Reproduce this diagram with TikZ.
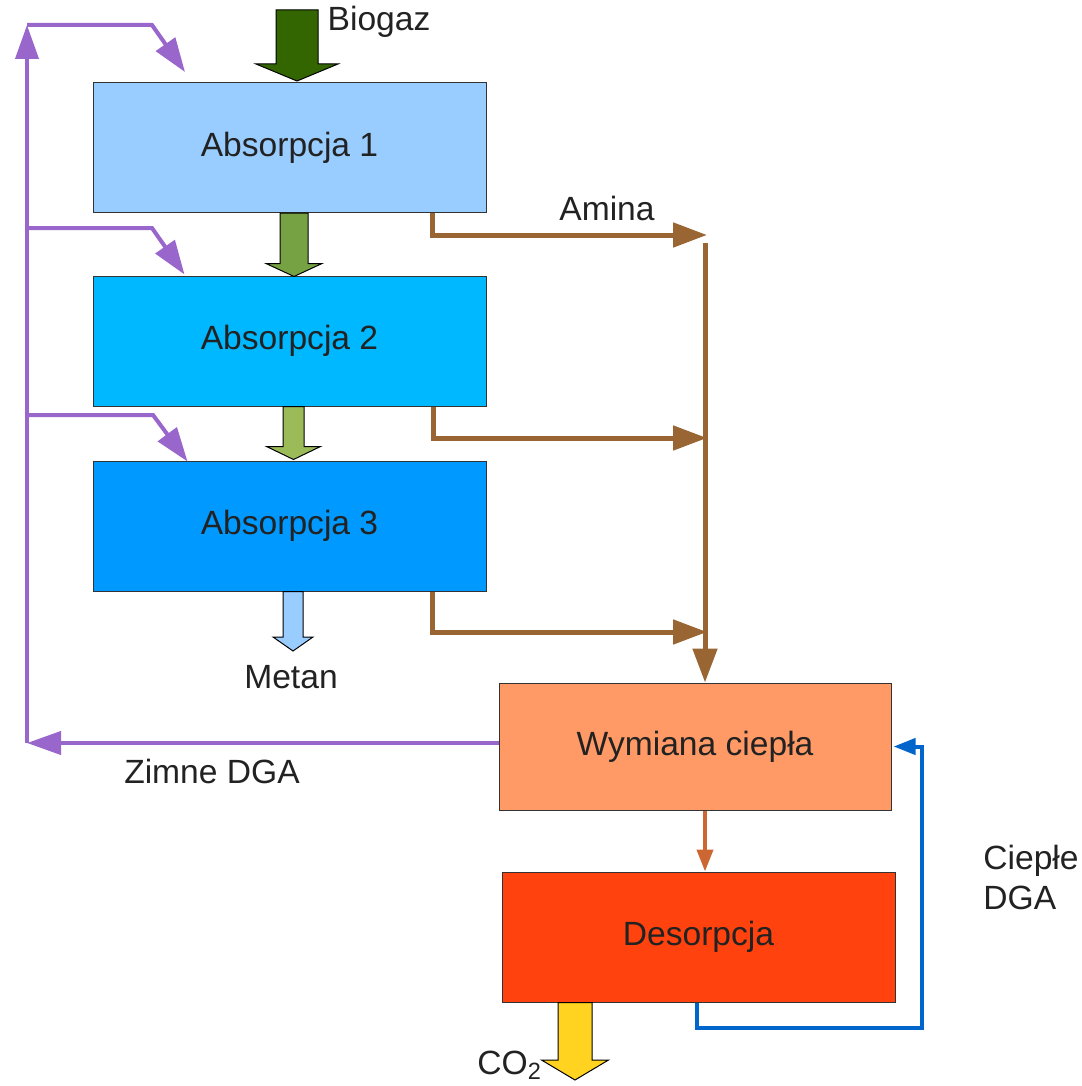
\documentclass[tikz,border=0pt]{standalone}
\usepackage{fontspec}
\setmainfont{Liberation Sans}
\usetikzlibrary{arrows.meta,calc}

\definecolor{abs1}{HTML}{99CCFF}
\definecolor{abs2}{HTML}{00B8FF}
\definecolor{abs3}{HTML}{0099FF}
\definecolor{wymcol}{HTML}{FF9966}
\definecolor{descol}{HTML}{FF420E}
\definecolor{aminacol}{HTML}{996633}
\definecolor{dgacol}{HTML}{9966CC}
\definecolor{ciepcol}{HTML}{0066CC}
\definecolor{grzcol}{HTML}{CC6633}
\definecolor{gaz1}{HTML}{336600}
\definecolor{gaz2}{HTML}{77A244}
\definecolor{gaz3}{HTML}{9BBB59}
\definecolor{metcol}{HTML}{99CCFF}
\definecolor{co2col}{HTML}{FFD320}
\definecolor{tekst}{HTML}{222222}

\tikzset{
  blok/.style={draw=black!80, line width=0.5pt, minimum width=196.5pt,
    minimum height=65pt, inner sep=0pt, text=tekst,
    font=\fontsize{16.8}{20}\selectfont},
  opis/.style={inner sep=0pt, text=tekst, font=\fontsize{16.8}{20}\selectfont},
  amina/.style={aminacol, line width=2.5pt, -{Triangle[length=17pt,width=12pt]}},
  dga/.style={dgacol, line width=2pt, -{Triangle[length=17pt,width=11.5pt]}},
}

% gruba strzalka: start, koniec, pol trzonu, pol grotu, dlugosc grotu, kolor
\newcommand{\gruba}[6]{%
  \filldraw[fill=#6, draw=black, line width=0.5pt] let \p1=(#1), \p2=(#2) in
    (\x1-#3,\y1) -- (\x1+#3,\y1) -- (\x1+#3,\y2+#5) -- (\x1+#4,\y2+#5)
    -- (\x1,\y2) -- (\x1-#4,\y2+#5) -- (\x1-#3,\y2+#5) -- cycle;}

\begin{document}
\begin{tikzpicture}[x=0.5pt, y=-0.5pt]
  \useasboundingbox (0,0) rectangle (1081,1086);

  % bloki
  \node[blok, fill=abs1] (a1) at (289.5,147.5) {Absorpcja 1};
  \node[blok, fill=abs2] (a2) at (289.5,341) {Absorpcja 2};
  \node[blok, fill=abs3] (a3) at (289.5,526) {Absorpcja 3};
  \node[blok, fill=wymcol, minimum width=196pt, minimum height=63.5pt] (wym) at (695,746.5) {Wymiana ciepła};
  \node[blok, fill=descol] (des) at (698.5,937) {Desorpcja};

  % opisy
  \node[opis] (biogaz) at (379,22) {Biogaz};
  \node[opis] (amina) at (607,208) {Amina};
  \node[opis] (metan) at (291,677) {Metan};
  \node[opis] (zimne) at (212,771) {Zimne DGA};
  \node[opis, anchor=west, align=left] (cieple) at (983,877) {Ciepłe\\DGA};
  \node[opis, anchor=west] (co2) at (477,1065) {CO\textsubscript{2}};

  % gaz
  \coordinate (bg) at (297,10);
  \coordinate (mt) at (293,651);
  \coordinate (co) at (575,1080);
  \gruba{bg}{$(a1.north)+(7.5,-1)$}{10.5pt}{20.5pt}{8.5pt}{gaz1}
  \gruba{$(a1.south)+(4.5,0)$}{$(a2.north)+(4.5,1)$}{7pt}{14pt}{6.5pt}{gaz2}
  \gruba{$(a2.south)+(4,0)$}{$(a3.north)+(4,-1)$}{5.25pt}{13.5pt}{6.5pt}{gaz3}
  \gruba{$(a3.south)+(3.5,0)$}{mt}{5pt}{10pt}{7pt}{metcol}
  \gruba{$(des.south -| co)$}{co}{8.5pt}{16.75pt}{10pt}{co2col}

  % amina
  \coordinate (z1) at (707,235);
  \coordinate (z2) at (707,438);
  \coordinate (z3) at (707,632);
  \coordinate (zb) at (705,243);
  \draw[amina] ($(a1.south east)+(-54,0)$) |- (z1);
  \draw[amina] ($(a2.south east)+(-53,0)$) |- (z2);
  \draw[amina] ($(a3.south east)+(-54,0)$) |- (z3);
  \draw[amina] (zb) -- (zb |- wym.north);

  % zimne DGA
  \coordinate (zp) at (27,743);
  \coordinate (zg1) at (27,25);
  \coordinate (zg2) at (27,228);
  \coordinate (zg3) at (27,415);
  \draw[dga] ($(wym.west)+(0,-3.5)$) -- (zp);
  \draw[dga] (zp) -- (zg1);
  \draw[dga] (zg1) -- (152,25) -- (185,72);
  \draw[dga] (zg2) -- (152,228) -- ($(a2.north west)+(92,-1)$);
  \draw[dga] (zg3) -- (153,415) -- ($(a3.north west)+(95,1)$);

  % cieple DGA
  \coordinate (c1) at (922,1028);
  \draw[ciepcol, line width=2pt, -{Triangle[length=11pt,width=8pt]}]
      ($(des.south)+(-1.5,0)$) |- (c1) |- ($(wym.east)+(2,0)$);

  \draw[grzcol, line width=2pt, -{Triangle[length=11pt,width=8pt]}]
      ($(wym.south)+(10,0)$) -- ($(des.north)+(6.5,0)$);

\end{tikzpicture}
\end{document}
